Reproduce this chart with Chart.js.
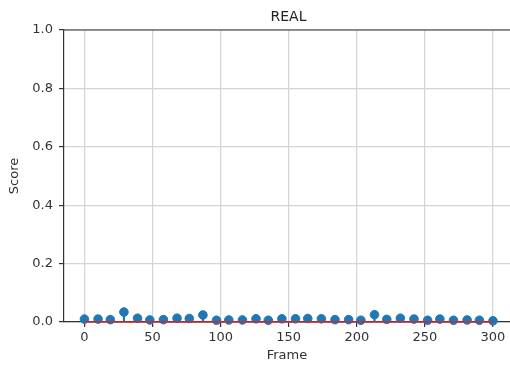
<!DOCTYPE html>
<html>
<head>
<meta charset="utf-8">
<script src="https://cdn.jsdelivr.net/npm/chart.js@4/dist/chart.umd.min.js"></script>
<style>
  html, body { margin: 0; padding: 0; background: #fff; }
  #wrap { width: 510px; height: 365px; }
</style>
</head>
<body>
<div id="wrap"><canvas id="chart" width="510" height="365"></canvas></div>
<script>
// frames sampled across the clip
const frames = [0, 10, 19, 29, 39, 48, 58, 68, 77, 87, 97, 106, 116, 126, 135, 145,
  155, 164, 174, 184, 194, 203, 213, 222, 232, 242, 252, 261, 271, 281, 290, 300]
// fake score per frame
const scores = [0.010, 0.010, 0.008, 0.034, 0.013, 0.007, 0.008, 0.013, 0.012, 0.024, 0.006, 0.007,
  0.007, 0.011, 0.006, 0.011, 0.011, 0.012, 0.011, 0.008, 0.008, 0.006, 0.025, 0.009,
  0.013, 0.010, 0.006, 0.010, 0.006, 0.007, 0.006, 0.004]
const xTicks = [0, 50, 100, 150, 200, 250, 300]
const yTicks = [0, 0.2, 0.4, 0.6, 0.8, 1.0]
const baseline = [0, 300]

const blue = '#1f77b4'
const red = '#d62728'
const font = { family: 'DejaVu Sans', size: 13 }

const points = frames.map((f, i) => ({ x: f, y: scores[i] }))

// title + top spine, matplotlib style
const frameDecor = {
  id: 'frameDecor',
  afterDraw(chart) {
    const { ctx, chartArea } = chart
    ctx.save()
    ctx.strokeStyle = '#333'
    ctx.lineWidth = 1.2
    ctx.beginPath()
    ctx.moveTo(chartArea.left, chartArea.top)
    ctx.lineTo(chartArea.right, chartArea.top)
    ctx.stroke()
    ctx.fillStyle = '#222'
    ctx.font = '14px "DejaVu Sans"'
    ctx.textAlign = 'center'
    ctx.textBaseline = 'middle'
    ctx.fillText('REAL', 288.5, 17)
    ctx.restore()
  },
}

new Chart(document.getElementById('chart'), {
  data: {
    datasets: [
      {
        type: 'line',
        label: 'baseline',
        data: baseline.map((x) => ({ x, y: 0 })),
        borderColor: red,
        borderWidth: 1.5,
        pointRadius: 0,
        clip: false,
        order: 0,
      },
      {
        type: 'scatter',
        label: 'markers',
        data: points,
        backgroundColor: blue,
        borderColor: blue,
        pointRadius: 4.3,
        clip: false,
        order: 1,
      },
      {
        type: 'bar',
        label: 'stems',
        data: points,
        backgroundColor: blue,
        barThickness: 1.5,
        order: 2,
      },
    ],
  },
  options: {
    responsive: false,
    animation: false,
    layout: { autoPadding: false, padding: { top: 30, right: 0, left: 0, bottom: 0 } },
    plugins: {
      legend: { display: false },
      tooltip: { enabled: false },
    },
    scales: {
      x: {
        type: 'linear',
        min: -15,
        max: 312.5,
        offset: false,
        afterBuildTicks(axis) { axis.ticks = xTicks.map((value) => ({ value })) },
        afterFit(axis) {
          axis.height = 43
          axis.paddingLeft = 0
          axis.paddingRight = 0
        },
        ticks: { font, color: '#333', padding: 3, maxRotation: 0 },
        grid: { offset: false, color: '#d4d4d4', lineWidth: 1.2, tickColor: '#333', tickLength: 5 },
        border: { color: '#333', width: 1.2 },
        title: { display: true, text: 'Frame', font, color: '#333', padding: { top: 0, bottom: 2 } },
      },
      y: {
        type: 'linear',
        min: 0,
        max: 1,
        afterBuildTicks(axis) { axis.ticks = yTicks.map((value) => ({ value })) },
        afterFit(axis) {
          axis.width = 64
          axis.paddingTop = 0
          axis.paddingBottom = 0
        },
        ticks: { font, color: '#333', padding: 6, callback: (v) => v.toFixed(1) },
        grid: { color: '#d4d4d4', lineWidth: 1.2, tickColor: '#333', tickLength: 5 },
        border: { color: '#333', width: 1.2 },
        title: { display: true, text: 'Score', font, color: '#333', padding: { top: 7, bottom: 0 } },
      },
    },
  },
  plugins: [frameDecor],
})
</script>
</body>
</html>
